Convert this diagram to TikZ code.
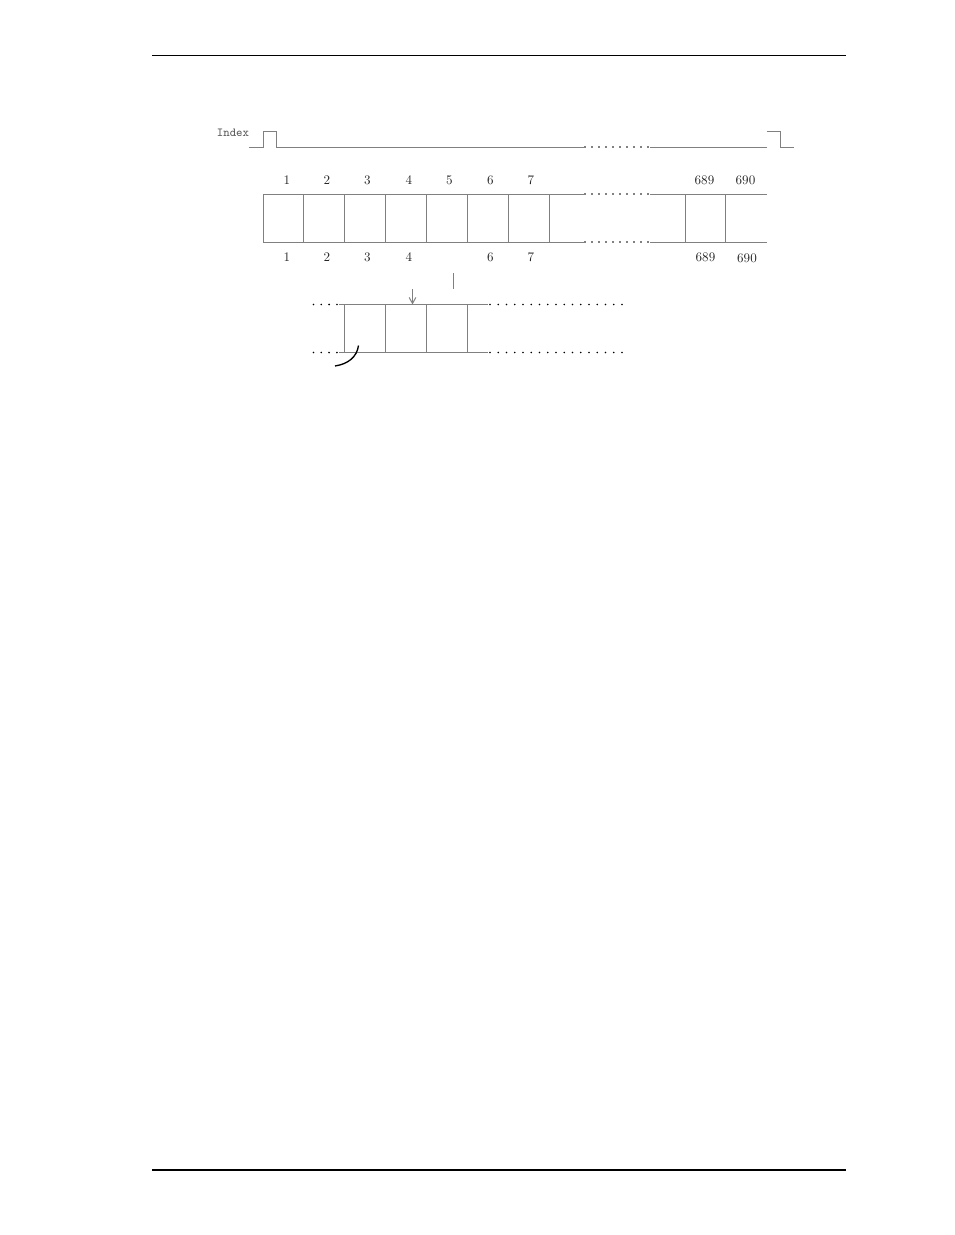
\documentclass[tikz,border=0pt]{standalone}
\usetikzlibrary{arrows.meta}
\begin{document}
\begin{tikzpicture}[x=0.75pt,y=-0.75pt,
  ln/.style={draw=black!50,line width=0.75pt},
  num/.style={font=\fontsize{9.8}{11}\selectfont,text=black!85,inner sep=0pt,anchor=center},
  dotc/.style={fill=black},
]
\useasboundingbox (0,0) rectangle (954,1235);
% page rules
\draw[line width=0.75pt] (152,55) -- (846,55);
\draw[line width=1.5pt] (152,1170) -- (846,1170);

% Index signal
\node[font=\ttfamily\fontsize{9.2}{11}\selectfont,text=black!65,inner sep=0pt,anchor=center] (idx) at (233,132.5) {Index};
\draw[ln] (249,147) -- (263,147) -- (263,131) -- (276,131) -- (276,147) -- (584,147);
\draw[ln] (650,147) -- (767,147);
\draw[ln] (767,131) -- (780,131) -- (780,147) -- (794,147);
\foreach \i in {0,...,9} \fill[dotc] (585+7*\i,147) circle (0.9);

% main strip
\draw[ln] (263,194) -- (584,194);
\draw[ln] (650,194) -- (767,194);
\draw[ln] (263,242) -- (584,242);
\draw[ln] (650,242) -- (767,242);
\foreach \i in {0,...,9} {
  \fill[dotc] (585+7*\i,194) circle (0.9);
  \fill[dotc] (585+7*\i,242) circle (0.9);
}
\foreach \x in {263,303.5,344.5,385.5,426.5,467.5,508.5,549,685.5,725.5}
  \draw[ln] (\x,194) -- (\x,242);

% labels top
\foreach \n/\x in {1/287,2/327,3/367.5,4/409,5/449.5,6/490.5,7/531}
  \node[num] (t\n) at (\x,180) {\n};
\node[num] (t689) at (704.5,180) {689};
\node[num] (t690) at (745.5,180) {690};
% labels bottom
\foreach \n/\x in {1/287,2/327,3/367.5,4/409,6/490.5,7/531}
  \node[num] (b\n) at (\x,257.5) {\n};
\node[num] (b689) at (705.5,257.5) {689};
\node[num] (b690) at (747,258) {690};

% small mark
\draw[ln] (453.5,273) -- (453.5,289);
% arrow
\coordinate (as) at (412.5,289);
\coordinate (ae) at (412.5,304.5);
\draw[ln,-{Straight Barb[length=4.5pt,width=5pt]}] (as) -- (ae);

% lower strip
\draw[ln] (339,304.5) -- (488,304.5);
\draw[ln] (339,352.5) -- (488,352.5);
\foreach \x in {344.5,385.5,426.5,467.5}
  \draw[ln] (\x,304.5) -- (\x,352.5);
\foreach \i in {0,...,3} {
  \fill[dotc] (313.5+7.8*\i,304.5) circle (0.9);
  \fill[dotc] (313.5+7.8*\i,352.5) circle (0.9);
}
\foreach \i in {0,...,16} {
  \fill[dotc] (490+8.25*\i,304.5) circle (0.9);
  \fill[dotc] (490+8.25*\i,352.5) circle (0.9);
}
% curve
\draw[line width=1pt] (358.5,345.5) .. controls (357,357) and (348,364) .. (335,366);
\end{tikzpicture}
\end{document}
